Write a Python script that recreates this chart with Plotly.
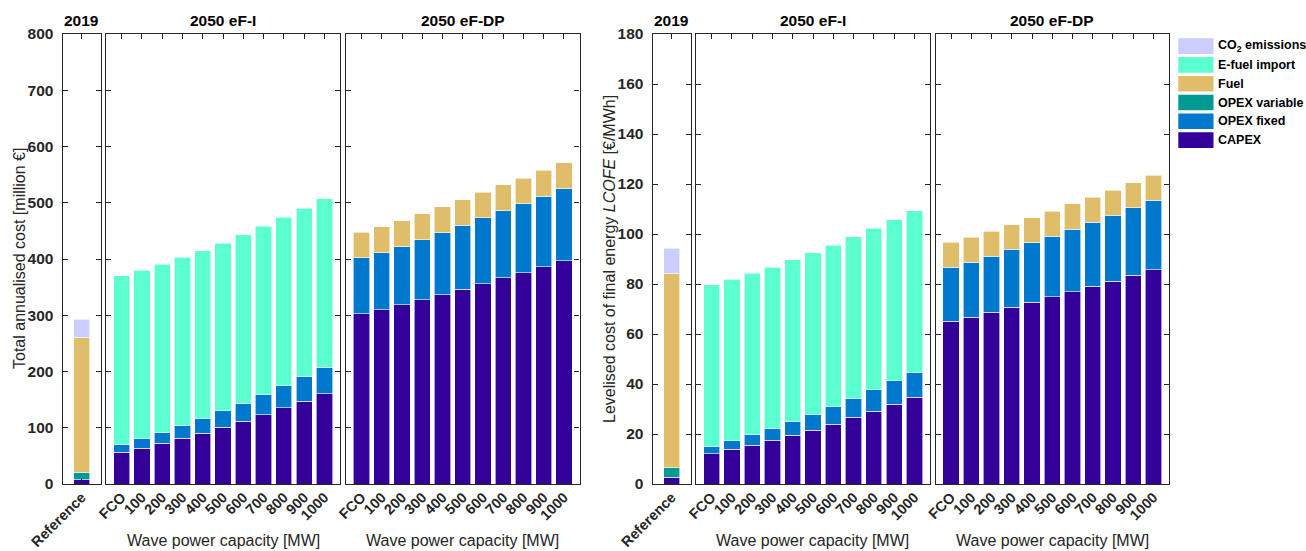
import plotly.graph_objects as go

W, H = 1306, 551

# ---------------- data ----------------
series_names = ["CAPEX", "OPEX fixed", "OPEX variable", "Fuel", "E-fuel import", "CO<sub>2</sub> emissions"]
series_colors = ["#330099", "#0078CC", "#009A95", "#E0BE69", "#5CFFD0", "#CCCCFF"]

ref_labels = ["Reference"]
wave_labels = ["FCO", "100", "200", "300", "400", "500", "600", "700", "800", "900", "1000"]
group_titles = ["2019", "2050 eF-I", "2050 eF-DP"]

# Total annualised cost [million €]
cost_ref_capex = [8.0]
cost_ref_opex_fixed = [0.0]
cost_ref_opex_var = [12.0]
cost_ref_fuel = [241.0]
cost_ref_efuel = [0.0]
cost_ref_co2 = [32.0]

cost_efi_capex = [56.5, 63.5, 72.5, 81.5, 90.5, 101.0, 112.0, 123.0, 135.5, 147.5, 160.5]
cost_efi_opex_fixed = [14.3, 18.0, 19.2, 23.3, 26.5, 29.0, 32.0, 36.5, 39.5, 44.2, 47.2]
cost_efi_efuel = [299.2, 298.5, 299.3, 298.2, 298.0, 298.0, 299.0, 298.5, 299.0, 298.3, 299.3]

cost_efdp_capex = [302.7, 309.8, 318.7, 327.6, 336.5, 346.6, 356.0, 366.8, 375.7, 386.3, 397.0]
cost_efdp_opex_fixed = [99.1, 101.2, 103.3, 106.8, 110.5, 113.4, 117.0, 118.7, 122.8, 125.7, 128.0]
cost_efdp_fuel = [45.7, 46.6, 46.0, 46.3, 46.0, 45.6, 45.7, 46.3, 45.5, 46.0, 46.5]

# Levelised cost of final energy LCOFE [€/MWh]
lcofe_ref_capex = [2.7]
lcofe_ref_opex_fixed = [0.0]
lcofe_ref_opex_var = [3.8]
lcofe_ref_fuel = [77.8]
lcofe_ref_efuel = [0.0]
lcofe_ref_co2 = [10.0]

lcofe_efi_capex = [12.1, 13.9, 15.6, 17.6, 19.6, 21.6, 24.0, 26.7, 29.2, 32.0, 34.7]
lcofe_efi_opex_fixed = [3.1, 3.5, 4.2, 4.8, 5.5, 6.3, 7.1, 7.6, 8.6, 9.3, 10.0]
lcofe_efi_efuel = [64.5, 64.6, 64.6, 64.4, 64.6, 64.6, 64.4, 64.6, 64.5, 64.4, 64.6]

lcofe_efdp_capex = [65.2, 66.8, 68.8, 70.8, 72.8, 74.9, 76.9, 79.2, 81.2, 83.6, 85.7]
lcofe_efdp_opex_fixed = [21.5, 22.0, 22.4, 23.1, 23.7, 24.3, 25.1, 25.6, 26.4, 26.9, 27.8]
lcofe_efdp_fuel = [10.0, 10.0, 10.0, 9.8, 10.0, 10.0, 10.1, 9.9, 10.0, 10.0, 10.0]

# ---------------- styling ----------------
FONT = "Liberation Sans, Arial, Helvetica, sans-serif"
AXC = "#262626"

def fx(p):
    return p / W

def fy(p):
    return 1 - p / H

y_dom = [fy(484), fy(34)]

n = len(wave_labels)
zeros_n = [0.0] * n

panels = [
    # chart 0 : annualised cost
    dict(px=(62.7, 100.7), labels=ref_labels, rng=[-0.95, 0.95], chart=0,
         data=[cost_ref_capex, cost_ref_opex_fixed, cost_ref_opex_var, cost_ref_fuel, cost_ref_efuel, cost_ref_co2]),
    dict(px=(106, 340), labels=wave_labels, rng=[-0.77, 10.77], chart=0,
         data=[cost_efi_capex, cost_efi_opex_fixed, zeros_n, zeros_n, cost_efi_efuel, zeros_n]),
    dict(px=(346, 579.5), labels=wave_labels, rng=[-0.77, 10.77], chart=0,
         data=[cost_efdp_capex, cost_efdp_opex_fixed, zeros_n, cost_efdp_fuel, zeros_n, zeros_n]),
    # chart 1 : LCOFE
    dict(px=(652.7, 690.7), labels=ref_labels, rng=[-0.95, 0.95], chart=1,
         data=[lcofe_ref_capex, lcofe_ref_opex_fixed, lcofe_ref_opex_var, lcofe_ref_fuel, lcofe_ref_efuel, lcofe_ref_co2]),
    dict(px=(696, 930), labels=wave_labels, rng=[-0.77, 10.77], chart=1,
         data=[lcofe_efi_capex, lcofe_efi_opex_fixed, zeros_n, zeros_n, lcofe_efi_efuel, zeros_n]),
    dict(px=(935.5, 1169), labels=wave_labels, rng=[-0.77, 10.77], chart=1,
         data=[lcofe_efdp_capex, lcofe_efdp_opex_fixed, zeros_n, lcofe_efdp_fuel, zeros_n, zeros_n]),
]

y_ranges = [[0, 800], [0, 180]]
y_dticks = [100, 20]

fig = go.Figure()
layout = dict(
    width=W, height=H,
    autosize=False,
    margin=dict(l=0, r=0, t=0, b=0, pad=0, autoexpand=False),
    paper_bgcolor="white", plot_bgcolor="white",
    barmode="stack",
    showlegend=False,
    font=dict(family=FONT, color=AXC),
)

annotations = []
shapes = []

for i, p in enumerate(panels):
    k = i + 1
    xa = "x" if k == 1 else f"x{k}"
    ya = "y" if k == 1 else f"y{k}"
    xs = list(range(len(p["labels"])))
    for s, (vals, name, col) in enumerate(zip(p["data"], series_names, series_colors)):
        if all(v == 0 for v in vals):
            continue
        fig.add_trace(go.Bar(
            x=xs, y=vals, name=name, xaxis=xa, yaxis=ya,
            width=0.8,
            marker=dict(color=col, line=dict(color="rgba(255,255,255,0.75)", width=0.8)),
            hovertemplate=name + ": %{y}<extra></extra>",
        ))
    first = (i % 3 == 0)
    layout[f"xaxis{'' if k == 1 else k}"] = dict(
        domain=[fx(p["px"][0]), fx(p["px"][1])], anchor=ya,
        range=p["rng"], tickmode="array", tickvals=xs, ticktext=p["labels"],
        tickangle=-45, ticks="inside", ticklen=5, tickwidth=1.2, tickcolor=AXC,
        mirror="allticks", showline=True, linecolor=AXC, linewidth=1.3,
        showgrid=False, zeroline=False, fixedrange=True, automargin=False,
        tickfont=dict(family=FONT, size=14.5, color=AXC, weight="bold"),
        ticklabelstandoff=-2,
    )
    layout[f"yaxis{'' if k == 1 else k}"] = dict(
        domain=y_dom, anchor=xa,
        range=y_ranges[p["chart"]], dtick=y_dticks[p["chart"]], tick0=0,
        ticks="inside", ticklen=5, tickwidth=1.2, tickcolor=AXC,
        mirror="allticks", showline=True, linecolor=AXC, linewidth=1.3,
        showgrid=False, zeroline=False, fixedrange=True, automargin=False,
        showticklabels=first,
        tickfont=dict(family=FONT, size=15.5, color=AXC, weight="bold"),
        ticklabelstandoff=5,
    )
    # group title
    annotations.append(dict(
        text=f"<b>{group_titles[i % 3]}</b>", xref="paper", yref="paper",
        x=fx((p["px"][0] + p["px"][1]) / 2), y=fy(21), xanchor="center", yanchor="middle",
        showarrow=False, font=dict(family=FONT, size=15.5, color="black"),
    ))
    if not first:
        annotations.append(dict(
            text="Wave power capacity [MW]", xref="paper", yref="paper",
            x=fx((p["px"][0] + p["px"][1]) / 2), y=fy(540), xanchor="center", yanchor="middle",
            showarrow=False, font=dict(family=FONT, size=16, color=AXC),
        ))

# y-axis titles
annotations.append(dict(
    text="Total annualised cost [million €]", xref="paper", yref="paper",
    x=fx(19), y=fy(259), xanchor="center", yanchor="middle", textangle=-90,
    showarrow=False, font=dict(family=FONT, size=16, color=AXC),
))
annotations.append(dict(
    text="Levelised cost of final energy <i>LCOFE</i> [€/MWh]", xref="paper", yref="paper",
    x=fx(609), y=fy(259), xanchor="center", yanchor="middle", textangle=-90,
    showarrow=False, font=dict(family=FONT, size=16, color=AXC),
))

# legend (top to bottom order: CO2 ... CAPEX)
leg_top = 38.3
leg_pitch = 18.8
for j, s in enumerate(reversed(range(len(series_names)))):
    y0 = leg_top + j * leg_pitch
    shapes.append(dict(
        type="rect", xref="paper", yref="paper",
        x0=fx(1178.3), x1=fx(1213.5), y0=fy(y0), y1=fy(y0 + 15.6),
        fillcolor=series_colors[s], line=dict(width=0),
    ))
    annotations.append(dict(
        text=f"<b>{series_names[s]}</b>", xref="paper", yref="paper",
        x=fx(1215.5), y=fy(y0 + 8), xanchor="left", yanchor="middle",
        showarrow=False, font=dict(family=FONT, size=12.5, color="black"),
    ))

layout["annotations"] = annotations
layout["shapes"] = shapes
fig.update_layout(**layout)

fig.write_html(
    "out.html",
    config={"displayModeBar": False},
    post_script="document.body.style.margin='0';document.body.style.padding='0';document.body.style.overflow='hidden';",
)
